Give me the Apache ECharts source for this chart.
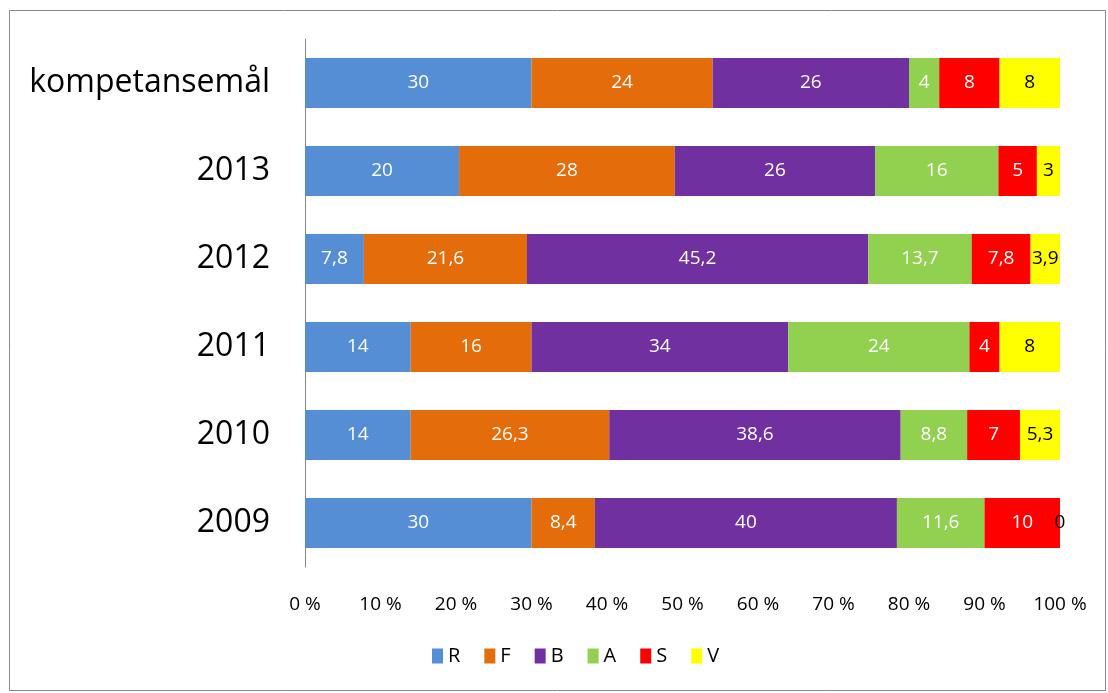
<!DOCTYPE html>
<html><head><meta charset="utf-8">
<script src="https://cdn.jsdelivr.net/npm/echarts@6/dist/echarts.min.js"></script>
<style>html,body{margin:0;padding:0;background:#fff}#c{width:1108px;height:693px}</style>
</head><body><div id="c"></div>
<script>
const categories = ['kompetansemål', '2013', '2012', '2011', '2010', '2009'];
const seriesNames = ['R', 'F', 'B', 'A', 'S', 'V'];
const R = [30, 20, 7.8, 14, 14, 30];
const F = [24, 28, 21.6, 16, 26.3, 8.4];
const B = [26, 26, 45.2, 34, 38.6, 40];
const A = [4, 16, 13.7, 24, 8.8, 11.6];
const S = [8, 5, 7.8, 4, 7, 10];
const V = [8, 3, 3.9, 8, 5.3, 0];
const xTicks = [0, 10, 20, 30, 40, 50, 60, 70, 80, 90, 100];
const colors = ['#558ed5', '#e46c0a', '#7030a0', '#92d050', '#ff0000', '#ffff00'];
const raw = [R, F, B, A, S, V];
const totals = categories.map((_, i) => raw.reduce((s, a) => s + a[i], 0));
const font = 'Open Sans, sans-serif';
const chart = echarts.init(document.getElementById('c'));
chart.setOption({
  animation: false,
  color: colors,
  graphic: [{type: 'rect', shape: {x: 9.5, y: 10.5, width: 1096, height: 680}, style: {fill: 'none', stroke: '#888', lineWidth: 1}}],
  grid: {left: 305, right: 48, top: 39, bottom: 126},
  legend: {
    bottom: 22, left: 427, itemWidth: 11, itemHeight: 15, itemGap: 24,
    icon: 'rect',
    textStyle: {fontFamily: font, fontSize: 20, color: '#000'},
    data: seriesNames
  },
  xAxis: {
    type: 'value', min: 0, max: 100, interval: 10,
    axisLine: {show: false}, axisTick: {show: false}, splitLine: {show: false},
    axisLabel: {formatter: v => v + ' %', fontFamily: font, fontSize: 19, color: '#000', margin: 28}
  },
  yAxis: {
    type: 'category', inverse: true, data: categories,
    axisLine: {show: true, lineStyle: {color: '#868686', width: 1}},
    axisTick: {show: false},
    axisLabel: {fontFamily: font, fontSize: 32, color: '#000', margin: 35}
  },
  series: raw.map((arr, k) => ({
    name: seriesNames[k], type: 'bar', stack: 'all', barWidth: 50,
    data: arr.map((v, i) => ({value: v / totals[i] * 100, raw: v})),
    label: {
      show: true, position: 'inside',
      formatter: p => String(p.data.raw).replace('.', ','),
      fontFamily: font, fontSize: 19,
      color: k === 5 ? '#000' : '#fff'
    }
  }))
});
</script></body></html>
